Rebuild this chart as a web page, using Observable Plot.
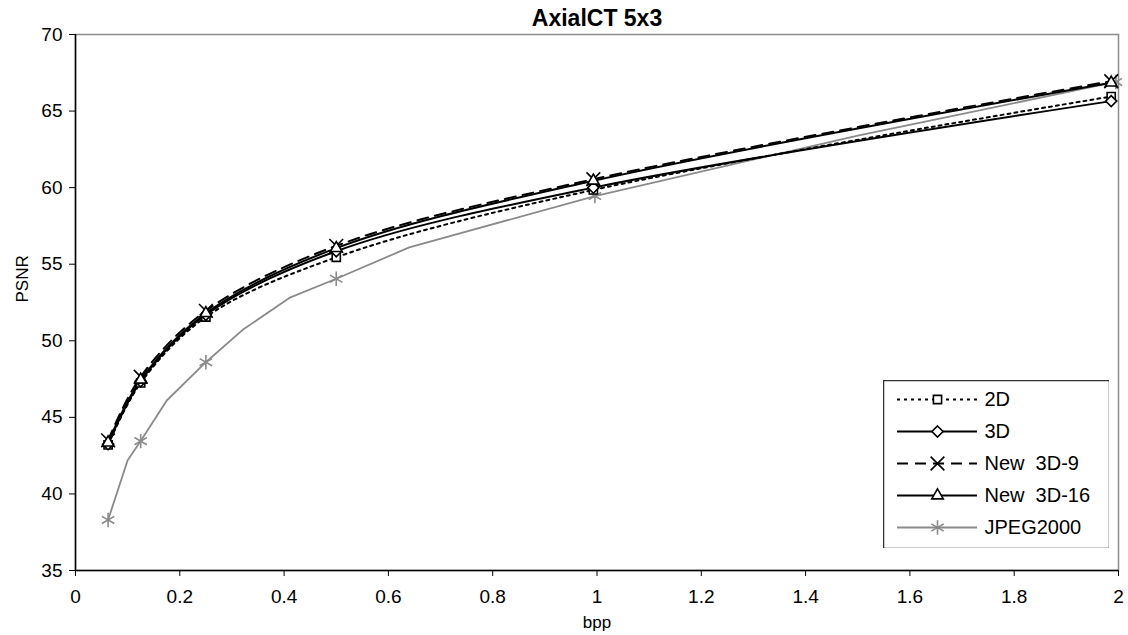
<!DOCTYPE html>
<html><head><meta charset="utf-8">
<script src="https://cdn.jsdelivr.net/npm/d3@7"></script>
<script src="https://cdn.jsdelivr.net/npm/@observablehq/plot@0.6"></script>
<style>
html,body{margin:0;padding:0;background:#fff;}
#wrap{position:relative;width:1128px;height:635px;overflow:hidden;}
#legend{position:absolute;left:883px;top:380px;}
</style></head><body><div id="wrap"></div>
<script>
// ---- labels & ticks ----
const title = "AxialCT 5x3";
const xLabel = "bpp";
const yLabel = "PSNR";
const xTicks = [0, 0.2, 0.4, 0.6, 0.8, 1, 1.2, 1.4, 1.6, 1.8, 2];
const yTicks = [35, 40, 45, 50, 55, 60, 65, 70];

// ---- series ----
const seriesNames = ["2D", "3D", "New\u00a0 3D-9", "New\u00a0 3D-16", "JPEG2000"];
const bpp = [0.0625, 0.125, 0.25, 0.5, 0.993, 1.986];
const psnr2D = [43.2, 47.25, 51.55, 55.45, 59.85, 65.95];
const psnr3D = [43.25, 47.35, 51.7, 55.85, 60.0, 65.65];
const psnrNew9 = [43.5, 47.65, 51.95, 56.2, 60.55, 66.95];
const psnrNew16 = [43.35, 47.45, 51.8, 56.05, 60.45, 66.85];
const jpegBpp = [0.0625, 0.1, 0.125, 0.175, 0.25, 0.32, 0.41, 0.5, 0.64, 0.996, 1.5, 1.995];
const jpegPsnr = [38.3, 42.2, 43.45, 46.1, 48.6, 50.7, 52.8, 54.05, 56.1, 59.45, 63.4, 66.9];
const jpegMarkerBpp = [0.0625, 0.125, 0.25, 0.5, 0.996, 1.995];

// ---- styles ----
const styles = [
  {stroke: "#000", dash: "3,4", symbol: "square2", r: 5.2, curve: "catmull-rom", width: 2},
  {stroke: "#000", dash: null, symbol: "diamond2", r: 5, curve: "catmull-rom", width: 2},
  {stroke: "#000", dash: "11,7", symbol: "times", r: 6.3, curve: "catmull-rom", width: 2},
  {stroke: "#000", dash: null, symbol: "triangle2", r: 5.5, curve: "catmull-rom", width: 2},
  {stroke: "#8a8a8a", dash: null, symbol: "asterisk", r: 6.8, curve: "linear", width: 1.8}
];

const rows = (name, xs, ys) => xs.map((x, i) => ({series: name, bpp: x, psnr: ys[i]}));
const lineData = [
  rows(seriesNames[0], bpp, psnr2D),
  rows(seriesNames[1], bpp, psnr3D),
  rows(seriesNames[2], bpp, psnrNew9),
  rows(seriesNames[3], bpp, psnrNew16),
  rows(seriesNames[4], jpegBpp, jpegPsnr)
];
const markerData = lineData.map((d, i) => i === 4 ? d.filter(r => jpegMarkerBpp.includes(r.bpp)) : d);

const font = "'Liberation Sans', Arial, sans-serif";
const order = [4, 0, 1, 2, 3];

const chart = Plot.plot({
  width: 1128, height: 635,
  marginLeft: 75, marginRight: 10, marginTop: 34, marginBottom: 65,
  style: {fontFamily: font, fontSize: "19px", background: "#fff", color: "#000"},
  x: {domain: [0, 2]},
  y: {domain: [35, 70]},
  marks: [
    Plot.frame({stroke: "#8c8c8c", strokeWidth: 1.5}),
    Plot.ruleX([0], {stroke: "#000", strokeWidth: 1.5}),
    Plot.ruleY([35], {stroke: "#000", strokeWidth: 1.5}),
    Plot.axisX({ticks: xTicks, tickSize: 6, tickPadding: 13, label: null,
      tickFormat: d => String(+d.toFixed(1))}),
    Plot.axisY({ticks: yTicks, tickSize: 6, tickPadding: 7, label: null}),
    ...order.map(i => Plot.line(lineData[i], {
      x: "bpp", y: "psnr", curve: styles[i].curve, stroke: styles[i].stroke,
      strokeWidth: styles[i].width, strokeDasharray: styles[i].dash
    })),
    ...order.map(i => Plot.dot(markerData[i], {
      x: "bpp", y: "psnr", symbol: styles[i].symbol, r: styles[i].r,
      stroke: styles[i].stroke, fill: "#fff", strokeWidth: 1.6
    })),
    Plot.text([title], {frameAnchor: "top", lineAnchor: "middle", dy: -16, fontSize: 23, fontWeight: "bold"}),
    Plot.text([yLabel], {frameAnchor: "left", lineAnchor: "middle", dx: -53, rotate: -90, fontSize: 17}),
    Plot.text([xLabel], {frameAnchor: "bottom", lineAnchor: "middle", dy: 52, fontSize: 17})
  ]
});
document.getElementById("wrap").appendChild(chart);

// ---- legend ----
const legendRows = seriesNames.map((name, i) => ({name, i}));
const legend = Plot.plot({
  width: 226, height: 168, margin: 0,
  style: {fontFamily: font, fontSize: "20px", background: "#fff"},
  x: {domain: [0, 226], range: [0, 226], axis: null},
  y: {type: "point", domain: seriesNames, range: [17, 148], padding: 0, axis: null},
  marks: [
    Plot.frame({stroke: "#333", strokeWidth: 1.5, fill: "#fff"}),
    ...legendRows.map(d => Plot.ruleY([d.name], {x1: 14, x2: 94, stroke: styles[d.i].stroke,
      strokeWidth: styles[d.i].width, strokeDasharray: styles[d.i].dash})),
    ...legendRows.map(d => Plot.dot([d.name], {x: () => 54, y: v => v, symbol: styles[d.i].symbol,
      r: styles[d.i].r, stroke: styles[d.i].stroke, fill: "#fff", strokeWidth: 1.6})),
    Plot.text(legendRows, {x: () => 101, y: "name", text: "name", textAnchor: "start", lineAnchor: "middle"})
  ]
});
legend.id = "legend";
document.getElementById("wrap").appendChild(legend);
</script>
</body></html>
